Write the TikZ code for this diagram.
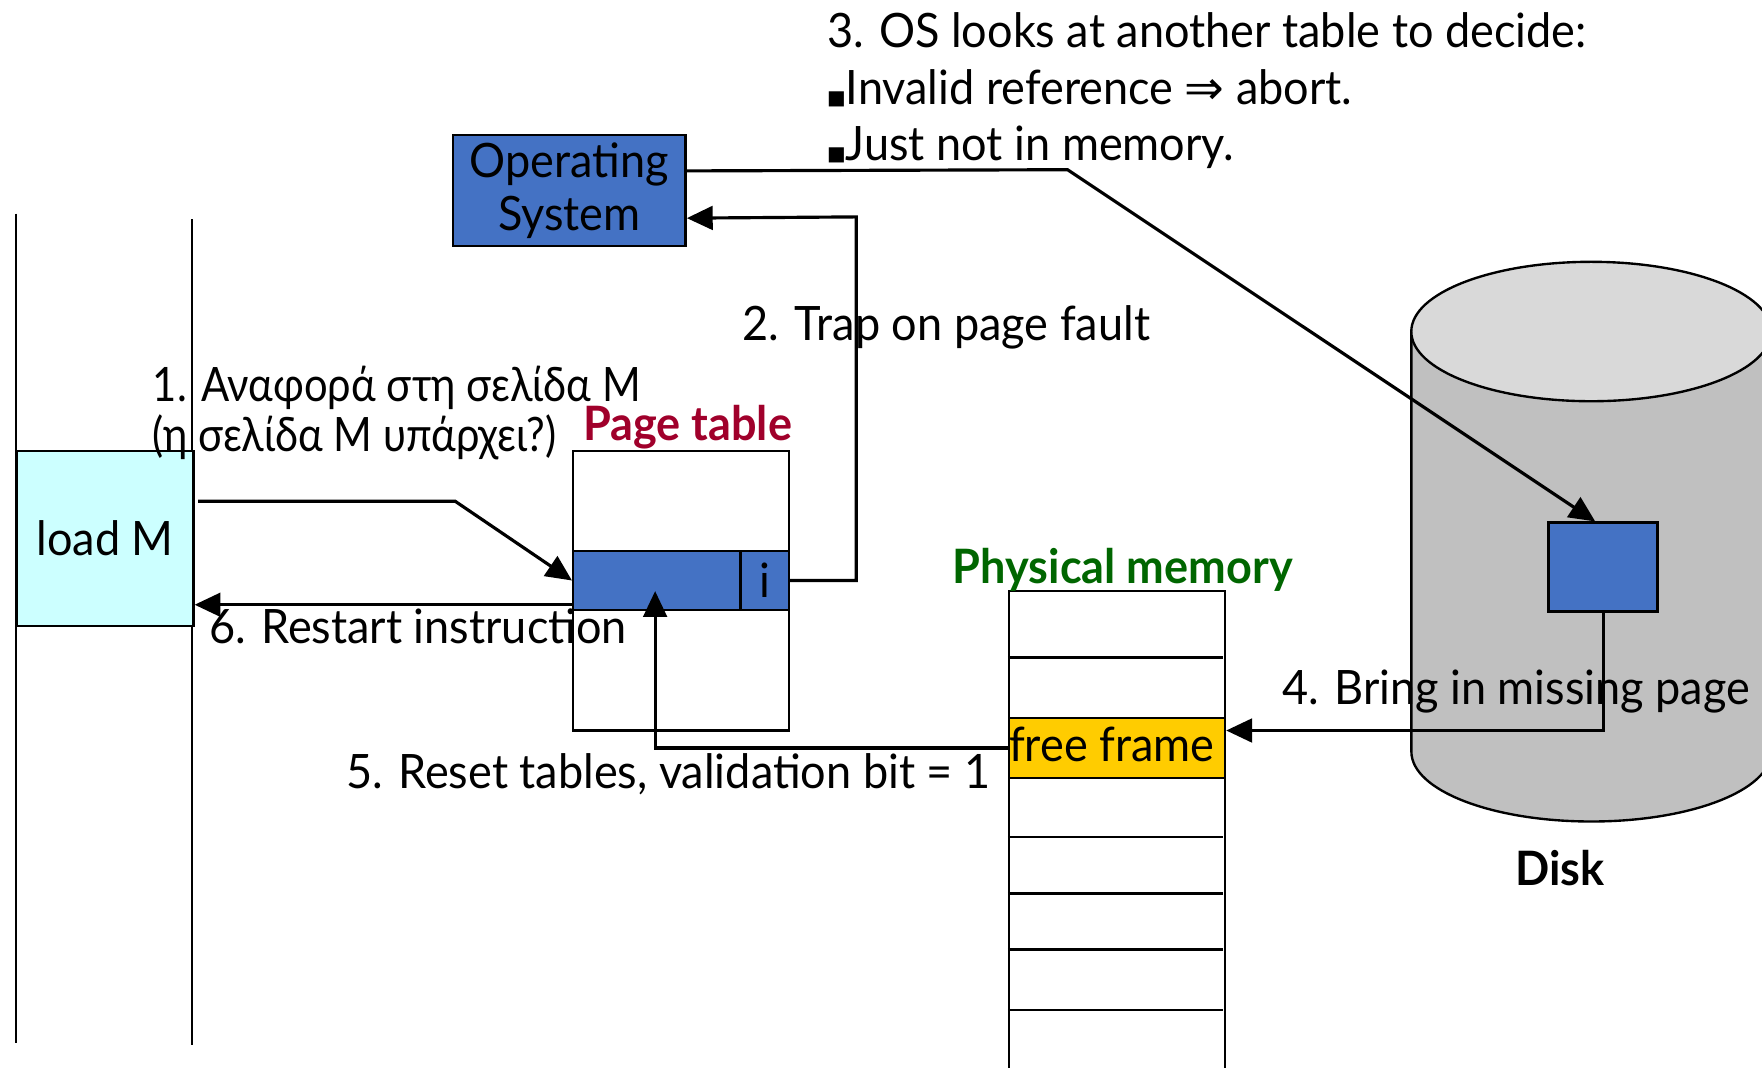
\documentclass[tikz,border=0pt]{standalone}
\usepackage{fontspec}
\setmainfont{Lato}[FakeStretch=0.95]
\newfontfamily\greekFont{Lato}[FakeStretch=0.88]
\newfontfamily\symfont{DejaVu Sans}
\usetikzlibrary{arrows.meta}

\definecolor{osBlue}{HTML}{4472C4}
\definecolor{loadCyan}{HTML}{CCFFFF}
\definecolor{freeYellow}{HTML}{FFCC00}
\definecolor{pageRed}{HTML}{A0002B}
\definecolor{memGreen}{HTML}{006600}
\definecolor{diskSide}{HTML}{C0C0C0}
\definecolor{diskTop}{HTML}{D9D9D9}

\newcommand{\diagFont}{\fontsize{12}{14.5}\selectfont}

\begin{document}
\begin{tikzpicture}[
    x=0.01cm, y=-0.01cm,
    >={Triangle[length=0.23cm, width=0.21cm]},
    line width=0.6pt,
    % Define boxes and labels locally
    boxStyle/.style={draw, inner sep=0pt, anchor=north west, font=\diagFont},
    txt/.style={font=\diagFont, inner sep=0pt, anchor=base west},
    flow/.style={->, line width=0.8pt}
]
    \useasboundingbox (0,0) rectangle (1568,950);

    % --- DISK (drawn first, arrows run over it) ---
    \draw[fill=diskSide] (1256,295) -- (1256,669)
        arc[start angle=180, end angle=360, x radius=1.6cm, y radius=0.62cm]
        -- (1576,295) -- cycle;
    \draw[fill=diskTop] (1416,295) ellipse[x radius=1.6cm, y radius=0.62cm];
    \node[boxStyle, fill=osBlue, minimum width=0.97cm, minimum height=0.79cm] (diskPage) at (1377,464) {};
    \node[font=\diagFont\bfseries, inner sep=0pt, anchor=base] (labelDisk) at (1388,788) {Disk};

    % --- PROCESS (two lines with load M) ---
    \draw (14,190) -- (14,928);
    \draw (171,195) -- (171,930);
    \node[boxStyle, fill=loadCyan, minimum width=1.57cm, minimum height=1.56cm] (loadBox) at (14,400) {load M};

    % --- OPERATING SYSTEM ---
    \node[boxStyle, fill=osBlue, minimum width=2.07cm, minimum height=0.99cm, align=center] (osBox) at (402,119) {Operating\\[-1pt]System};

    % --- PAGE TABLE ---
    \node[boxStyle, minimum width=1.92cm, minimum height=2.49cm] (ptTable) at (509,400) {};
    \node[boxStyle, fill=osBlue, minimum width=1.49cm, minimum height=0.53cm] (ptRow) at (509,489) {};
    \node[boxStyle, fill=osBlue, minimum width=0.43cm, minimum height=0.53cm] (ptBit) at (658,489) {i};
    \node[font=\diagFont\bfseries, text=pageRed, inner sep=0pt, anchor=base west] (labelPage) at (518,392) {Page table};

    % --- PHYSICAL MEMORY ---
    \node[boxStyle, minimum width=1.92cm, minimum height=4.5cm] (memBox) at (897,525) {};
    \foreach \y in {585,745,795,845,899}
        \draw (897,\y) -- (1088,\y);
    \node[boxStyle, fill=freeYellow, minimum width=1.92cm, minimum height=0.53cm] (memFree) at (897,638) {};
    \node[txt] (labelFree) at (897,678) {free frame};
    \node[font=\diagFont\bfseries, text=memGreen, inner sep=0pt, anchor=base west] (labelMem) at (847,519) {Physical memory};

    % --- STEP LABELS ---
    \node[txt, font=\diagFont\greekFont] (labelRef) at (135,357) {1. Αναφορά στη σελίδα M};
    \node[txt, font=\diagFont\greekFont] (labelRefQ) at (135,402) {(η σελίδα M υπάρχει?)};
    \node[txt] (labelTrap) at (660,303) {2. Trap on page fault};
    \node[txt] (labelLook) at (735,42) {3. OS looks at another table to decide:};
    \node[txt] (labelInvalid) at (735,93) {{\symfont\tiny ■}Invalid reference {\symfont ⇒} abort.};
    \node[txt] (labelJust) at (735,143) {{\symfont\tiny ■}Just not in memory.};
    \node[txt] (labelBring) at (1140,627) {4. Bring in missing page};
    \node[txt] (labelReset) at (307,702) {5. Reset tables, validation bit = 1};
    \node[txt] (labelRestart) at (185,573) {6. Restart instruction};

    % --- FLOW ARROWS ---
    \coordinate (refBend) at (405,446);
    \draw[flow] ([xshift=0.03cm]loadBox.east |- refBend) -- (refBend) -- (ptRow.west);

    \coordinate (trapBend) at (762,193);
    \coordinate (trapIn) at ([yshift=-0.245cm]osBox.east);
    \draw[flow] (ptBit.east) -| (trapBend) -- (trapIn);

    \coordinate (osOut) at ([yshift=0.175cm]osBox.east);
    \coordinate (lookBend) at (950,151);
    \draw[flow] (osOut) -- (lookBend) -- ([xshift=-0.07cm]diskPage.north);

    \coordinate (bringIn) at ([yshift=0.155cm]memFree.east);
    \draw[flow] (diskPage.south) |- (bringIn);

    \coordinate (resetIn) at (583,526);
    \draw[flow] (memFree.west) -| (resetIn);

    \coordinate (restartFrom) at ([yshift=0.06cm]ptRow.south west);
    \draw[flow] (restartFrom) -- (restartFrom -| loadBox.east);

\end{tikzpicture}
\end{document}
